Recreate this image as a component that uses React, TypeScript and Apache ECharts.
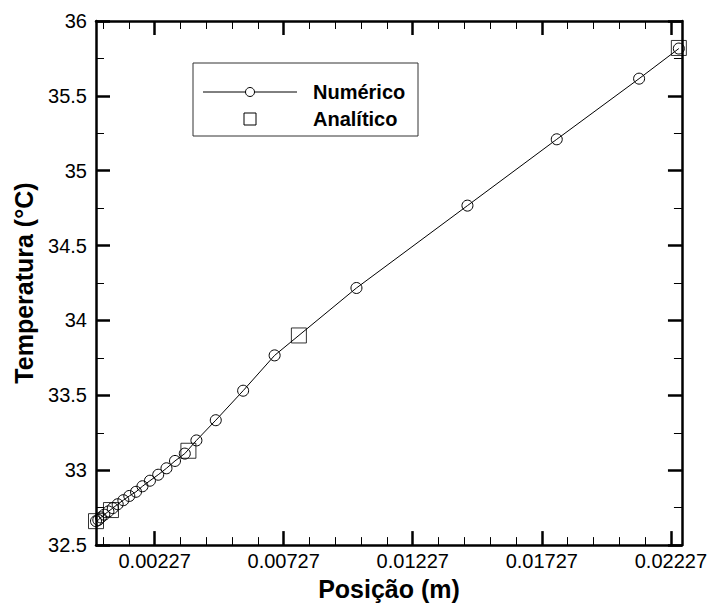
import React, { useEffect, useRef } from "react";
import * as echarts from "echarts";

// Numerical solution (circles + line)
const positionNum = [
  0, 0.00009, 0.00019, 0.00032, 0.00048, 0.00065, 0.00084, 0.00106, 0.00129,
  0.00155, 0.0018, 0.00209, 0.00241, 0.00273, 0.00306, 0.00344, 0.00389,
  0.00464, 0.0057, 0.00692, 0.01009, 0.01439, 0.01785, 0.02104, 0.02258,
];
const tempNum = [
  32.66, 32.668, 32.685, 32.703, 32.725, 32.747, 32.773, 32.8, 32.828, 32.856,
  32.893, 32.93, 32.97, 33.013, 33.062, 33.111, 33.199, 33.334, 33.531, 33.767,
  34.217, 34.767, 35.21, 35.615, 35.816,
];

// Analytical solution (squares)
const positionAna = [0, 0.00058, 0.00358, 0.00786, 0.02258];
const tempAna = [32.66, 32.734, 33.13, 33.9, 35.82];

// Axis ticks
const xMajorTicks = [0.00227, 0.00727, 0.01227, 0.01727, 0.02227];
const xMinorTicks = [
  0.00027, 0.00127, 0.00327, 0.00427, 0.00527, 0.00627, 0.00827, 0.00927,
  0.01027, 0.01127, 0.01327, 0.01427, 0.01527, 0.01627, 0.01827, 0.01927,
  0.02027, 0.02127,
];
const xMin = 0;
const xMax = 0.0227;
const yMin = 32.5;
const yMax = 36;
const yStep = 0.5;

const FONT = "'Liberation Sans', Arial, sans-serif";

export default function App() {
  const ref = useRef<HTMLDivElement>(null);

  useEffect(() => {
    if (!ref.current) return;
    const chart = echarts.init(ref.current, undefined, { renderer: "svg" });

    const axisLine = { show: true, onZero: false, lineStyle: { color: "#000", width: 2.5 } };
    const majorTick = (vals: number[]) => ({
      show: true,
      inside: true,
      length: 14,
      lineStyle: { color: "#000", width: 2.5 },
      customValues: vals,
    });
    const minorTickX = {
      show: true,
      inside: true,
      length: 8,
      lineStyle: { color: "#000", width: 1 },
      customValues: xMinorTicks,
    };

    const baseX = {
      type: "value",
      min: xMin,
      max: xMax,
      splitLine: { show: false },
    };

    const option: any = {
      animation: false,
      backgroundColor: "#fff",
      grid: { left: 96, top: 21, right: 27, bottom: 51, containLabel: false },
      xAxis: [
        {
          ...baseX,
          position: "bottom",
          axisLine,
          axisTick: majorTick(xMajorTicks),
          axisLabel: {
            customValues: xMajorTicks,
            formatter: (v: number) => v.toFixed(5),
            fontSize: 20,
            color: "#000",
            fontFamily: FONT,
            margin: 6,
          },
          name: "Posição (m)",
          nameLocation: "middle",
          nameGap: 24,
          nameTextStyle: {
            fontSize: 25,
            fontWeight: "bold",
            color: "#000",
            fontFamily: FONT,
            verticalAlign: "top",
          },
        },
        {
          ...baseX,
          position: "bottom",
          axisLine: { show: false, onZero: false },
          axisTick: minorTickX,
          axisLabel: { show: false },
        },
        {
          ...baseX,
          position: "top",
          axisLine,
          axisTick: majorTick(xMajorTicks),
          axisLabel: { show: false },
        },
        {
          ...baseX,
          position: "top",
          axisLine: { show: false, onZero: false },
          axisTick: minorTickX,
          axisLabel: { show: false },
        },
      ],
      yAxis: [
        {
          type: "value",
          min: yMin,
          max: yMax,
          interval: yStep,
          position: "left",
          axisLine,
          axisTick: { show: true, inside: true, length: 14, lineStyle: { color: "#000", width: 2.5 } },
          minorTick: { show: true, splitNumber: 2, length: 8, lineStyle: { color: "#000", width: 1 } },
          splitLine: { show: false },
          axisLabel: { fontSize: 20, color: "#000", fontFamily: FONT, margin: 9 },
          name: "Temperatura (°C)",
          nameLocation: "middle",
          nameGap: 60,
          nameTextStyle: { fontSize: 25, fontWeight: "bold", color: "#000", fontFamily: FONT },
        },
        {
          type: "value",
          min: yMin,
          max: yMax,
          interval: yStep,
          position: "right",
          axisLine,
          axisTick: { show: true, inside: true, length: 14, lineStyle: { color: "#000", width: 2.5 } },
          minorTick: { show: true, splitNumber: 2, length: 8, lineStyle: { color: "#000", width: 1 } },
          splitLine: { show: false },
          axisLabel: { show: false },
        },
      ],
      series: [
        {
          name: "Numérico",
          type: "line",
          xAxisIndex: 0,
          yAxisIndex: 0,
          data: positionNum.map((x, i) => [x, tempNum[i]]),
          symbol: "circle",
          symbolSize: 11,
          showAllSymbol: true,
          clip: false,
          lineStyle: { color: "#000", width: 1 },
          itemStyle: { color: "rgba(0,0,0,0)", borderColor: "#000", borderWidth: 1 },
          z: 3,
        },
        {
          name: "Analítico",
          type: "scatter",
          xAxisIndex: 0,
          yAxisIndex: 0,
          data: positionAna.map((x, i) => [x, tempAna[i]]),
          symbol: "rect",
          symbolSize: 15,
          clip: false,
          itemStyle: { color: "rgba(0,0,0,0)", borderColor: "#000", borderWidth: 1 },
          z: 4,
        },
      ],
      graphic: [
        {
          type: "rect",
          shape: { x: 193, y: 63, width: 225, height: 73 },
          style: { fill: "#fff", stroke: "#333", lineWidth: 1 },
          z: 10,
        },
        {
          type: "line",
          shape: { x1: 203, y1: 92, x2: 297, y2: 92 },
          style: { stroke: "#000", lineWidth: 1 },
          z: 11,
        },
        {
          type: "circle",
          shape: { cx: 250, cy: 92, r: 4.5 },
          style: { fill: "#fff", stroke: "#000", lineWidth: 1 },
          z: 12,
        },
        {
          type: "rect",
          shape: { x: 244, y: 113, width: 12, height: 12 },
          style: { fill: "#fff", stroke: "#000", lineWidth: 1 },
          z: 12,
        },
        {
          type: "text",
          x: 313,
          y: 92,
          style: {
            text: "Numérico",
            font: `bold 20px ${FONT}`,
            fill: "#000",
            verticalAlign: "middle",
            align: "left",
          },
          z: 12,
        },
        {
          type: "text",
          x: 313,
          y: 119,
          style: {
            text: "Analítico",
            font: `bold 20px ${FONT}`,
            fill: "#000",
            verticalAlign: "middle",
            align: "left",
          },
          z: 12,
        },
      ],
    };

    chart.setOption(option);
    return () => chart.dispose();
  }, []);

  return (
    <div
      ref={ref}
      style={{ position: "absolute", left: 0, top: 0, width: 710, height: 606 }}
    />
  );
}
